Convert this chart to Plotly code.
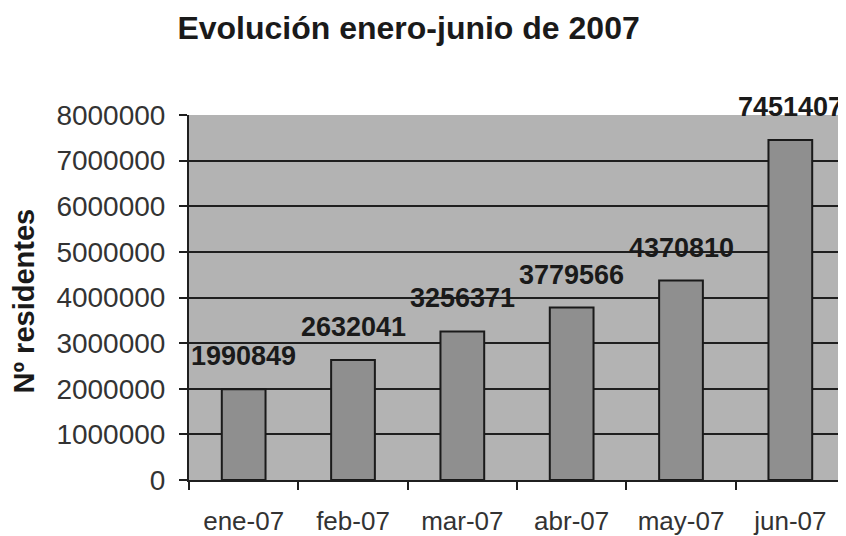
import plotly.graph_objects as go

categories = ["ene-07", "feb-07", "mar-07", "abr-07", "may-07", "jun-07"]
residentes = [1990849, 2632041, 3256371, 3779566, 4370810, 7451407]
y_ticks = [0, 1000000, 2000000, 3000000, 4000000, 5000000, 6000000, 7000000, 8000000]

fig = go.Figure()
fig.add_trace(go.Bar(
    x=categories, y=residentes,
    marker=dict(color="#8f8f8f", line=dict(color="#1a1a1a", width=2)),
    width=0.4,
))

for c, v in zip(categories, residentes):
    fig.add_annotation(x=c, y=v, text=str(v), showarrow=False,
                       yanchor="bottom", yshift=16,
                       font=dict(family="Liberation Sans, Arial", size=27, color="#1a1a1a", weight="bold"))

# y-axis title as rotated text
fig.add_annotation(xref="paper", yref="paper", x=0, y=0.5, xshift=-166, yshift=-4,
                   text="<b>Nº residentes</b>", textangle=-90, showarrow=False,
                   xanchor="center", yanchor="middle",
                   font=dict(family="Liberation Sans, Arial", size=29, color="#1a1a1a"))

fig.update_layout(
    width=838, height=528,
    margin=dict(l=181, r=1, t=107, b=56),
    paper_bgcolor="white",
    plot_bgcolor="#b3b3b3",
    showlegend=False,
    title=dict(text="<b>Evolución enero-junio de 2007</b>", x=0.478, xanchor="center",
               y=0.962, yanchor="middle",
               font=dict(family="Liberation Sans, Arial", size=32, color="#1a1a1a")),
    font=dict(family="Liberation Sans, Arial", color="#2a2a2a"),
)
fig.update_yaxes(
    range=[0, 8000000], tickvals=y_ticks, ticktext=[str(t) for t in y_ticks],
    showgrid=True, gridcolor="#1f1f1f", gridwidth=2,
    showline=True, linecolor="#1f1f1f", linewidth=2,
    ticks="outside", ticklen=8, tickcolor="#1f1f1f", tickwidth=2,
    tickfont=dict(size=28, color="#333333"), ticklabelstandoff=8,
    zeroline=False,
)
fig.update_xaxes(
    showline=True, linecolor="#1f1f1f", linewidth=2,
    ticks="outside", tickson="boundaries", ticklen=8, tickcolor="#1f1f1f", tickwidth=2,
    tickfont=dict(size=26, color="#333333"), ticklabelstandoff=17,
    showgrid=False,
)

fig.write_html("out.html")
